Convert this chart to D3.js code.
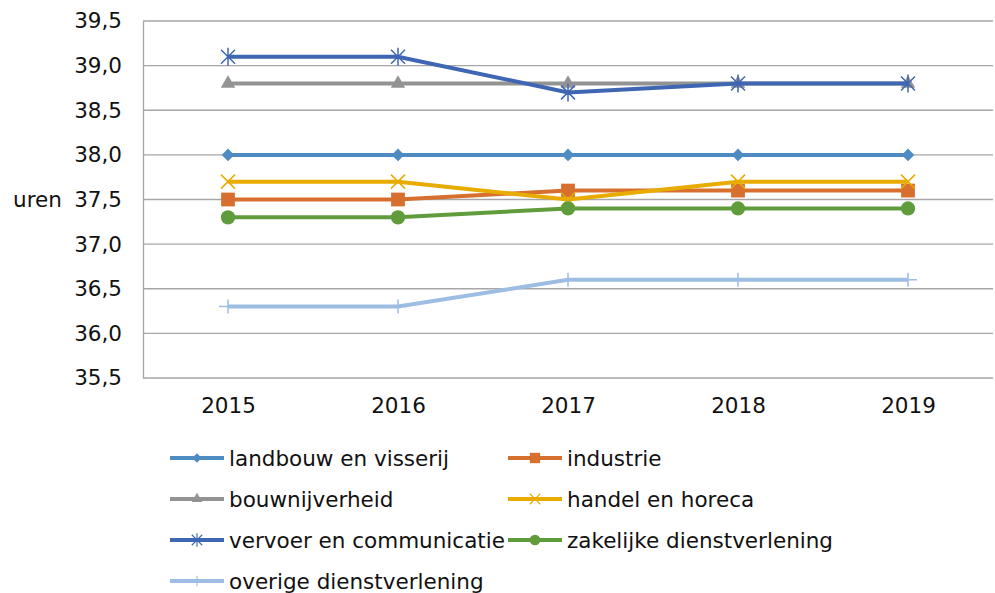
<!DOCTYPE html>
<html>
<head>
<meta charset="utf-8">
<script src="https://cdn.jsdelivr.net/npm/d3@7"></script>
<style>
  body { margin: 0; background: #fff; }
  text { font-family: "DejaVu Sans", Verdana, sans-serif; fill: #111; }
</style>
</head>
<body>
<div class="chart"></div>
<script>
const years = ["2015", "2016", "2017", "2018", "2019"];
const yTicks = [35.5, 36.0, 36.5, 37.0, 37.5, 38.0, 38.5, 39.0, 39.5];
const seriesNames = [
  "landbouw en visserij",
  "industrie",
  "bouwnijverheid",
  "handel en horeca",
  "vervoer en communicatie",
  "zakelijke dienstverlening",
  "overige dienstverlening",
];
const landbouw = [38.0, 38.0, 38.0, 38.0, 38.0];
const industrie = [37.5, 37.5, 37.6, 37.6, 37.6];
const bouw = [38.8, 38.8, 38.8, 38.8, 38.8];
const handel = [37.7, 37.7, 37.5, 37.7, 37.7];
const vervoer = [39.1, 39.1, 38.7, 38.8, 38.8];
const zakelijk = [37.3, 37.3, 37.4, 37.4, 37.4];
const overige = [36.3, 36.3, 36.6, 36.6, 36.6];
const colors = ["#4f8bc3", "#d7702e", "#939393", "#e8ac00", "#3f66b2", "#609b3c", "#9dbde3"];
const markers = ["diamond", "square", "triangle", "x", "star", "circle", "plus"];

const series = [landbouw, industrie, bouw, handel, vervoer, zakelijk, overige].map((v, i) => ({
  name: seriesNames[i],
  values: v,
  color: colors[i],
  marker: markers[i],
}));

const width = 995, height = 593;
const margin = { top: 21, right: 2, bottom: 215, left: 143 };
const fontSize = "21.5px";

const svg = d3.select(".chart").append("svg")
  .attr("width", width).attr("height", height);

const x = d3.scalePoint().domain(years)
  .range([margin.left, width - margin.right]).padding(0.5);
const y = d3.scaleLinear().domain([35.5, 39.5])
  .range([height - margin.bottom, margin.top]);

const fmt = (d) => d3.format(".1f")(d).replace(".", ",");

// gridlines
svg.append("g").selectAll("line").data(yTicks).join("line")
  .attr("x1", margin.left).attr("x2", width - margin.right)
  .attr("y1", (d) => y(d)).attr("y2", (d) => y(d))
  .attr("stroke", "#a6a6a6").attr("stroke-width", 1.3);

// left axis
const yAxis = svg.append("g")
  .attr("transform", `translate(${margin.left},0)`)
  .call(d3.axisLeft(y).tickValues(yTicks).tickFormat(fmt).tickSize(0).tickPadding(21));
yAxis.select(".domain").attr("stroke", "#a6a6a6").attr("stroke-width", 1.3);
yAxis.selectAll("text").style("font-size", fontSize).attr("font-family", null).attr("fill", null);

// bottom axis
const xAxis = svg.append("g")
  .attr("transform", `translate(0,${y(35.5)})`)
  .call(d3.axisBottom(x).tickSize(0).tickPadding(20));
xAxis.select(".domain").remove();
xAxis.selectAll("text").style("font-size", fontSize).attr("font-family", null).attr("fill", null);

svg.append("text")
  .attr("x", 13).attr("y", y(37.5)).attr("dy", "0.35em")
  .style("font-size", fontSize).text("uren");

function markerPath(type) {
  switch (type) {
    case "diamond": return d3.symbol(d3.symbolDiamond2, 100)();
    case "square": return d3.symbol(d3.symbolSquare, 190)();
    case "triangle": return d3.symbol(d3.symbolTriangle, 90)();
    case "circle": return d3.symbol(d3.symbolCircle, 160)();
    case "x": return "M-7,-7L7,7M-7,7L7,-7";
    case "star": return "M-7,-7L7,7M-7,7L7,-7M0,-9L0,9";
    case "plus": return "M-9,0L9,0M0,-7L0,7";
  }
}
const lineMarker = (t) => t === "x" || t === "star" || t === "plus";

const line = d3.line().x((d, i) => x(years[i])).y((d) => y(d));

const plot = svg.append("g");
series.forEach((s) => {
  const g = plot.append("g");
  g.append("path")
    .attr("d", line(s.values))
    .attr("fill", "none")
    .attr("stroke", s.color)
    .attr("stroke-width", 4);
  g.selectAll("path.m").data(s.values).join("path")
    .attr("class", "m")
    .attr("transform", (d, i) => `translate(${x(years[i])},${y(d)})`)
    .attr("d", markerPath(s.marker))
    .attr("fill", lineMarker(s.marker) ? "none" : s.color)
    .attr("stroke", s.color)
    .attr("stroke-width", lineMarker(s.marker) ? 1.5 : 0);
});

// legend
const legend = svg.append("g");
const legItems = legend.selectAll("g").data(series).join("g")
  .attr("transform", (d, i) =>
    `translate(${i % 2 === 0 ? 170 : 508},${458 + Math.floor(i / 2) * 41})`);
legItems.append("line")
  .attr("x1", 0).attr("x2", 54)
  .attr("stroke", (d) => d.color).attr("stroke-width", 4);
legItems.append("path")
  .attr("transform", "translate(27,0) scale(0.75)")
  .attr("d", (d) => markerPath(d.marker))
  .attr("fill", (d) => (lineMarker(d.marker) ? "none" : d.color))
  .attr("stroke", (d) => d.color)
  .attr("stroke-width", (d) => (lineMarker(d.marker) ? 1.5 : 0));
legItems.append("text")
  .attr("x", 59).attr("dy", "0.35em")
  .style("font-size", fontSize)
  .text((d) => d.name);
</script>
</body>
</html>
